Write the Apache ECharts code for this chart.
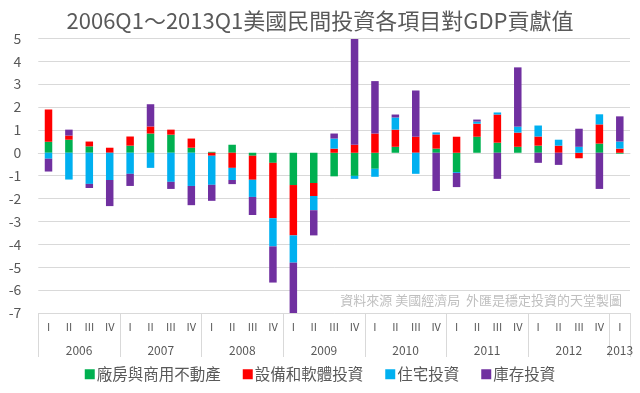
<!DOCTYPE html>
<html>
<head>
<meta charset="utf-8">
<script src="https://cdn.jsdelivr.net/npm/echarts@6/dist/echarts.min.js"></script>
<style>
html,body{margin:0;padding:0;background:#fff;}
#chart{width:640px;height:393px;}
</style>
</head>
<body>
<div id="chart"></div>
<script>
var quarters = ['I','II','III','IV','I','II','III','IV','I','II','III','IV','I','II','III','IV','I','II','III','IV','I','II','III','IV','I','II','III','IV','I'];
var years = ['2006','2007','2008','2009','2010','2011','2012','2013'];
var seriesNames = ['廠房與商用不動產','設備和軟體投資','住宅投資','庫存投資'];
var structures = [0.48,0.57,0.28,0,0.31,0.84,0.79,0.22,0.04,0.35,-0.13,-0.44,-1.41,-1.32,-1.03,-1.01,-0.70,0.26,0,0.18,-0.84,0.70,0.44,0.26,0.31,0,0,0.40,-0.04];
var equipment = [1.41,0.18,0.21,0.22,0.40,0.31,0.22,0.40,-0.13,-0.66,-1.05,-2.42,-2.20,-0.57,0.18,0.35,0.84,0.75,0.70,0.62,0.70,0.57,1.23,0.62,0.40,0.31,-0.24,0.84,0.18];
var residential = [-0.26,-1.17,-1.36,-1.19,-0.92,-0.66,-1.27,-1.45,-1.27,-0.53,-0.75,-1.23,-1.19,-0.62,0.44,-0.13,-0.35,0.53,-0.92,0.09,-0.04,0.09,0.09,0.26,0.48,0.26,0.26,0.44,0.31];
var inventories = [-0.56,0.26,-0.18,-1.14,-0.53,0.97,-0.31,-0.84,-0.70,-0.18,-0.79,-1.58,-2.25,-1.10,0.22,4.62,2.29,0.13,2.02,-1.67,-0.62,0.09,-1.14,2.59,-0.44,-0.53,0.79,-1.58,1.10];
var yTicks = {min:-7, max:5, interval:1};
var note = '資料來源 美國經濟局  外匯是穩定投資的天堂製圖';
var titleText = '2006Q1～2013Q1美國民間投資各項目對GDP貢獻值';

// build year axis points (half-quarter spacing, boundaryGap false)
var yearPoints = [];
for (var j = 0; j <= quarters.length * 2; j++) yearPoints.push('');
years.forEach(function (y, k) {
  var startQ = k * 4;
  var len = Math.min(4, quarters.length - startQ);
  yearPoints[startQ * 2 + len] = y;
});
var nPts = yearPoints.length;

var colors = ['#00B050','#FF0000','#00B0F0','#7030A0'];
var font = '"Noto Sans CJK TC", "Noto Sans", sans-serif';
var dataSets = [structures, equipment, residential, inventories];

var chart = echarts.init(document.getElementById('chart'), null, {renderer:'canvas'});
chart.setOption({
  animation: false,
  color: colors,
  textStyle: {fontFamily: font},
  title: {
    text: titleText,
    left: 'center',
    top: 5,
    textStyle: {fontSize: 22, fontWeight: 'normal', color: '#595959', fontFamily: font}
  },
  grid: {left: 38.3, right: 10, top: 38.3, bottom: 80, containLabel: false},
  legend: {
    bottom: 6,
    left: 'center',
    icon: 'rect',
    itemWidth: 10,
    itemHeight: 10,
    itemGap: 22,
    textStyle: {fontSize: 15.5, color: '#595959', fontFamily: font, padding: [0,0,0,-3]},
    data: seriesNames
  },
  xAxis: [
    {
      type: 'category',
      data: quarters,
      position: 'bottom',
      axisLine: {show: true, lineStyle: {color: '#d9d9d9', width: 1}},
      axisTick: {show: false},
      axisLabel: {fontSize: 11, color: '#595959', margin: 8, interval: 0, fontFamily: font},
      splitLine: {show: false}
    },
    {
      type: 'category',
      data: yearPoints,
      boundaryGap: false,
      position: 'bottom',
      axisLine: {show: false},
      axisTick: {
        show: true, length: 44, inside: false,
        lineStyle: {color: '#d9d9d9', width: 1},
        interval: function (index) { return index % 8 === 0 || index === nPts - 1; }
      },
      axisLabel: {fontSize: 12, color: '#595959', margin: 31, interval: 0, fontFamily: font},
      splitLine: {show: false}
    }
  ],
  yAxis: {
    type: 'value',
    min: yTicks.min,
    max: yTicks.max,
    interval: yTicks.interval,
    axisLine: {show: false},
    axisTick: {show: false},
    axisLabel: {fontSize: 14, color: '#595959', margin: 17, fontFamily: font},
    splitLine: {lineStyle: {color: '#d9d9d9', width: 1}}
  },
  series: seriesNames.map(function (name, i) {
    return {
      name: name,
      type: 'bar',
      stack: 'total',
      xAxisIndex: 0,
      barWidth: 7.5,
      clip: true,
      data: dataSets[i],
      itemStyle: {color: colors[i]}
    };
  }),
  graphic: [{
    type: 'text',
    right: 18,
    top: 294,
    style: {text: note, fill: '#bfbfbf', font: '13px ' + font}
  }]
});
</script>
</body>
</html>
